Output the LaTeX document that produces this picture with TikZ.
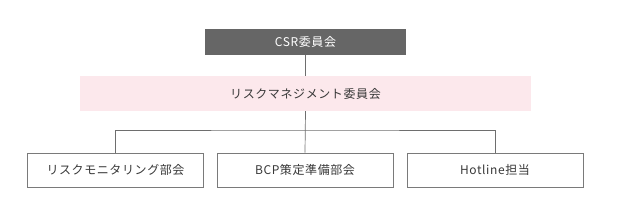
\documentclass[tikz,border=0pt]{standalone}
\usepackage{fontspec}
\newfontfamily\jpfont[LetterSpace=5]{Noto Sans CJK JP}
\definecolor{csrgray}{HTML}{666666}
\definecolor{bandpink}{HTML}{FCE8EC}
\definecolor{linegray}{HTML}{6E6E6E}
\definecolor{boxgray}{HTML}{7A7A7A}
\begin{document}
\begin{tikzpicture}[x=1pt,y=-1pt,
  lbl/.style={font=\jpfont\fontsize{12}{14}\selectfont, text=black!78},
  unitbox/.style={draw=boxgray, line width=0.8pt, minimum width=176pt, minimum height=34pt, inner sep=0pt, lbl},
  conn/.style={draw=linegray, line width=0.7pt}]
\useasboundingbox (0,0) rectangle (627,209);
\node[fill=csrgray, minimum width=201pt, minimum height=26pt, inner sep=0pt, font=\jpfont\fontsize{12}{14}\selectfont, text=white] (csr) at (305.5,42) {CSR委員会};
\node[fill=bandpink, minimum width=451pt, minimum height=35pt, inner sep=0pt, lbl] (rm) at (305.5,93.5) {リスクマネジメント委員会};
\node[unitbox] (b1) at (115.5,170) {リスクモニタリング部会};
\node[unitbox] (b2) at (305,170) {BCP策定準備部会};
\node[unitbox] (b3) at (495,170) {Hotline担当};
\coordinate (hj) at (305,130);
\draw[conn] (csr.south) -- (rm.north);
\draw[conn] (rm.south) -- (b2.north);
\draw[conn] (b1.north) |- (hj) -| (b3.north);
\end{tikzpicture}
\end{document}
